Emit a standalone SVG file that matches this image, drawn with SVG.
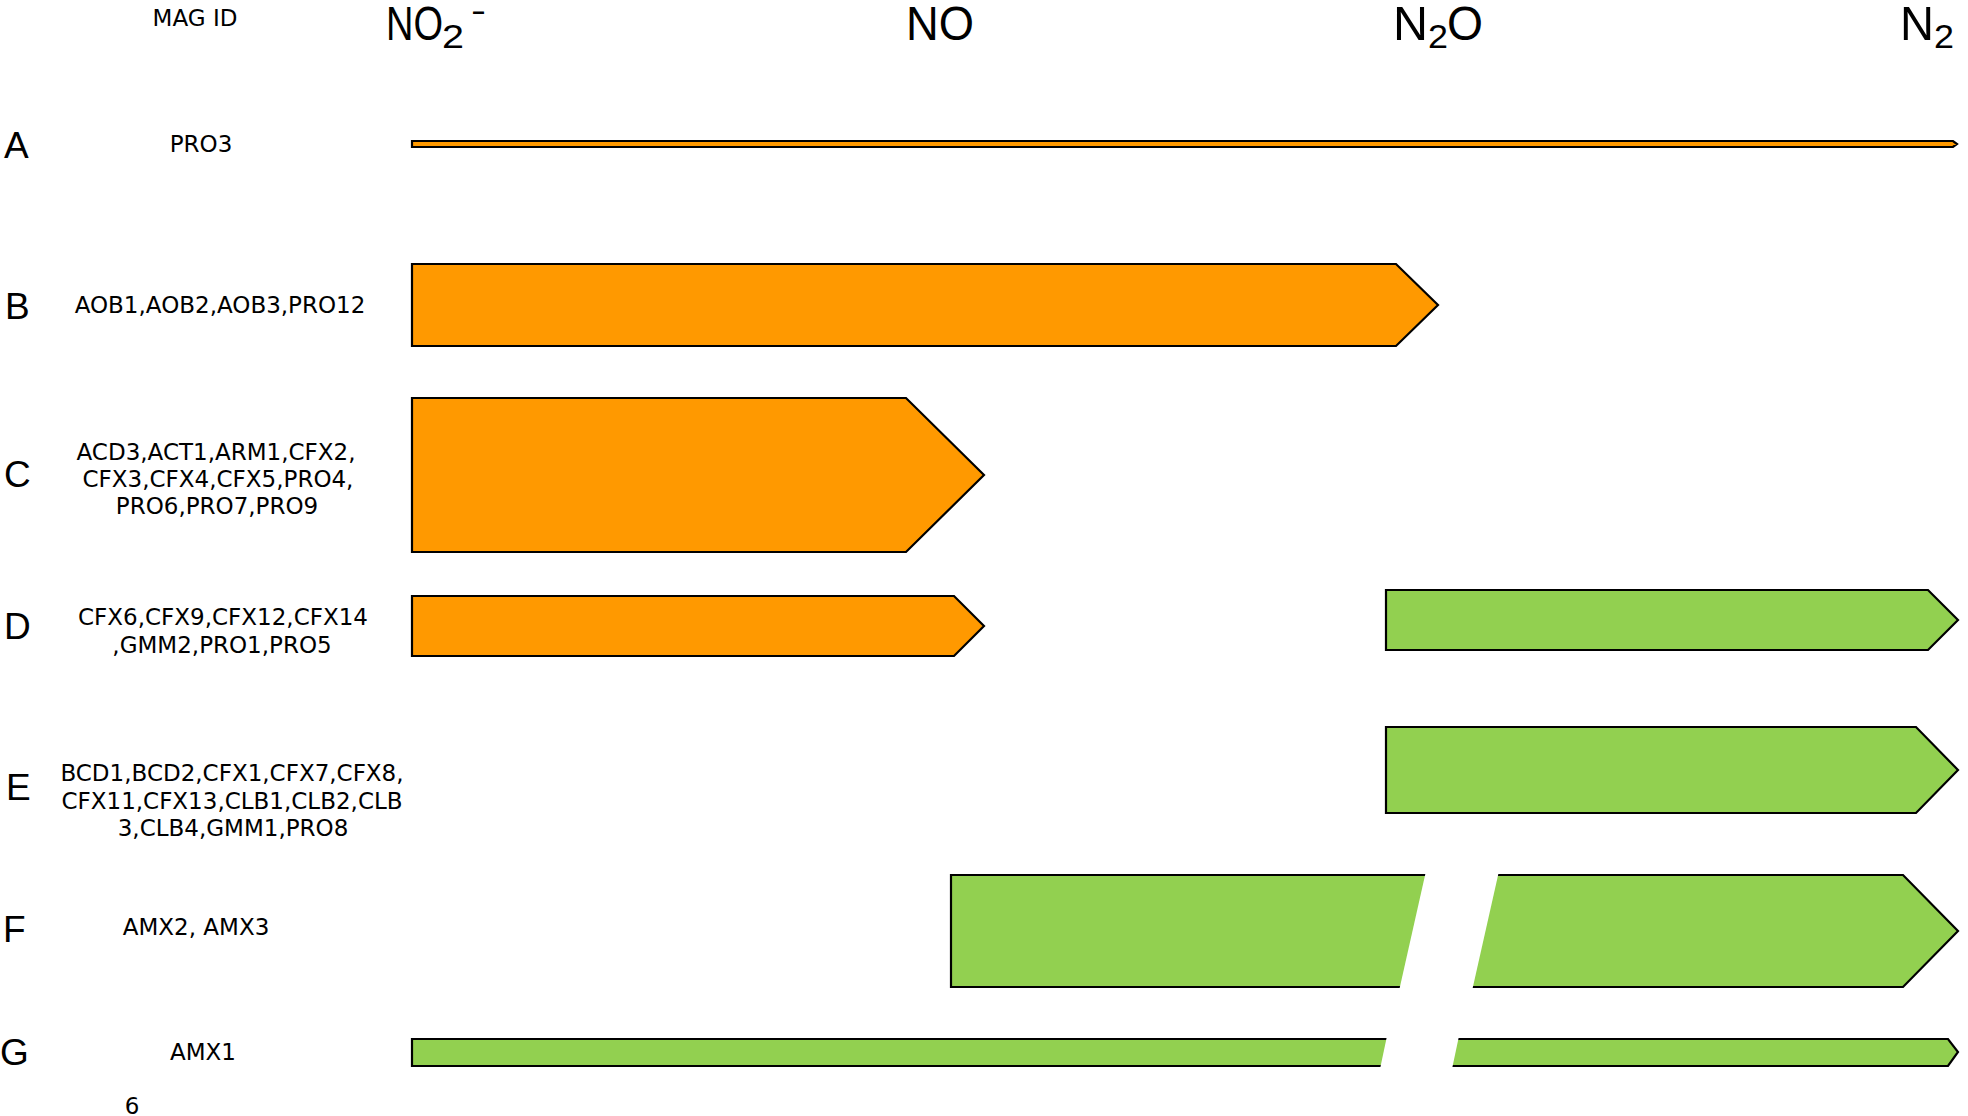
<svg xmlns="http://www.w3.org/2000/svg" width="1968" height="1116" viewBox="0 0 1968 1116">
<style>
.hdr{font-family:"Liberation Sans",Arial,sans-serif;font-size:49px;fill:#000}
.sub{font-family:"Liberation Sans",Arial,sans-serif;font-size:34px;fill:#000}
.row{font-family:"Liberation Sans",Arial,sans-serif;font-size:37px;fill:#000}
.id{font-family:"DejaVu Sans",Verdana,sans-serif;font-size:23px;fill:#000;text-anchor:middle}
.or{fill:#FF9900;stroke:#000;stroke-width:2.2;stroke-linejoin:miter}
.gr{fill:#92D050;stroke:#000;stroke-width:2.2;stroke-linejoin:miter}
.cut{fill:#FFFFFF;stroke:none}
</style>
<rect width="1968" height="1116" fill="#FFFFFF"/>
<g id="header">
<text class="id" x="195" y="26" font-size="25.5">MAG ID</text>
<text class="hdr" x="386" y="40" textLength="57" lengthAdjust="spacingAndGlyphs">NO</text>
<text class="sub" x="442" y="48" textLength="22" lengthAdjust="spacingAndGlyphs">2</text>
<text class="sub" x="471" y="22" textLength="15" lengthAdjust="spacingAndGlyphs">-</text>
<text class="hdr" x="906" y="40" textLength="68" lengthAdjust="spacingAndGlyphs">NO</text>
<text class="hdr" x="1393" y="40" textLength="35" lengthAdjust="spacingAndGlyphs">N</text>
<text class="sub" x="1428" y="48" textLength="20" lengthAdjust="spacingAndGlyphs">2</text>
<text class="hdr" x="1447" y="40" textLength="36" lengthAdjust="spacingAndGlyphs">O</text>
<text class="hdr" x="1900" y="40" textLength="34" lengthAdjust="spacingAndGlyphs">N</text>
<text class="sub" x="1934" y="48" textLength="20" lengthAdjust="spacingAndGlyphs">2</text>
</g>
<g id="row-A">
<text class="row" x="4" y="158">A</text>
<text class="id" x="201" y="152">PRO3</text>
<polygon class="or" points="412,141 1953,141 1957,144 1953,147 412,147"/>
</g>
<g id="row-B">
<text class="row" x="5" y="319">B</text>
<text class="id" x="220" y="313">AOB1,AOB2,AOB3,PRO12</text>
<polygon class="or" points="412,264 1396,264 1438,305 1396,346 412,346"/>
</g>
<g id="row-C">
<text class="row" x="4" y="487">C</text>
<text class="id" x="216" y="460">ACD3,ACT1,ARM1,CFX2,</text>
<text class="id" x="218" y="487">CFX3,CFX4,CFX5,PRO4,</text>
<text class="id" x="217" y="514">PRO6,PRO7,PRO9</text>
<polygon class="or" points="412,398 906,398 984,475 906,552 412,552"/>
</g>
<g id="row-D">
<text class="row" x="4" y="639">D</text>
<text class="id" x="223" y="625">CFX6,CFX9,CFX12,CFX14</text>
<text class="id" x="222" y="653">,GMM2,PRO1,PRO5</text>
<polygon class="or" points="412,596 954,596 984,626 954,656 412,656"/>
<polygon class="gr" points="1386,590 1928,590 1958,620 1928,650 1386,650"/>
</g>
<g id="row-E">
<text class="row" x="6" y="800">E</text>
<text class="id" x="232" y="781">BCD1,BCD2,CFX1,CFX7,CFX8,</text>
<text class="id" x="232" y="809">CFX11,CFX13,CLB1,CLB2,CLB</text>
<text class="id" x="233" y="836">3,CLB4,GMM1,PRO8</text>
<polygon class="gr" points="1386,727 1916,727 1958,770 1916,813 1386,813"/>
</g>
<g id="row-F">
<text class="row" x="3" y="942">F</text>
<text class="id" x="196" y="935">AMX2, AMX3</text>
<polygon class="gr" points="951,875 1903,875 1958,931 1903,987 951,987"/>
<polygon class="cut" points="1426,871 1499,871 1472,991 1399,991"/>
</g>
<g id="row-G">
<text class="row" x="0" y="1065">G</text>
<text class="id" x="203" y="1060">AMX1</text>
<polygon class="gr" points="412,1039 1948,1039 1958,1052 1948,1066 412,1066"/>
<polygon class="cut" points="1387,1036 1459,1036 1452,1069 1380,1069"/>
</g>
<g id="footnote">
<text class="id" x="132" y="1114" font-size="19">6</text>
</g>
</svg>
